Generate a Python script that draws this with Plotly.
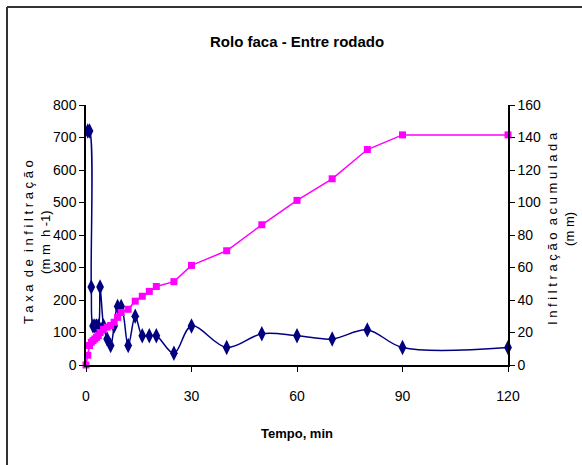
import plotly.graph_objects as go

# Infiltration rate (mm/h) versus time (min)
tempo_taxa = [0.5, 1, 1.5, 2, 2.5, 3, 3.5, 4, 5, 6, 7, 8, 9, 10, 12, 14, 16, 18, 20,
              25, 30, 40, 50, 60, 70, 80, 90, 120]
taxa = [720, 720, 240, 120, 120, 120, 120, 240, 120, 80, 60, 120, 180, 180, 60, 150,
        90, 90, 90, 36, 120, 54, 96, 90, 80, 108, 54, 54]

# Cumulative infiltration (mm) versus time (min)
tempo_acum = [0, 0.5, 1, 1.5, 2, 2.5, 3, 3.5, 4, 5, 6, 7, 8, 9, 10, 12, 14, 16, 18, 20,
              25, 30, 40, 50, 60, 70, 80, 90, 120]
acumulada = [0, 6, 12, 14, 15, 16, 17, 18, 20, 22, 23.3, 24.3, 26.3, 29.3, 32.3, 34.3,
             39.3, 42.3, 45.3, 48.3, 51.3, 61.3, 70.3, 86.3, 101.3, 114.6, 132.6,
             141.6, 141.6]

x_ticks = [0, 30, 60, 90, 120]

W, H = 582, 465
L, R, T, B = 86, 74, 105, 100
PW, PH = W - L - R, H - T - B

FONT = "Liberation Sans Narrow, Arial Narrow, Liberation Sans, Arial, sans-serif"


def px_x(p):
    return (p - L) / PW


def px_y(p):
    return (H - B - p) / PH


fig = go.Figure()

fig.add_trace(go.Scatter(
    x=tempo_taxa, y=taxa, mode="lines+markers",
    line=dict(color="#000080", width=1.5, shape="spline", smoothing=1),
    marker=dict(symbol="diamond-tall", size=11, color="#000080"),
    cliponaxis=False, showlegend=False,
))

fig.add_trace(go.Scatter(
    x=tempo_acum, y=acumulada, mode="lines+markers", yaxis="y2",
    line=dict(color="#FF00FF", width=1.5),
    marker=dict(symbol="square", size=7, color="#FF00FF"),
    cliponaxis=False, showlegend=False,
))

axis_font = dict(family=FONT, size=14, color="#000000")

fig.update_layout(
    width=W, height=H,
    margin=dict(l=L, r=R, t=T, b=B),
    paper_bgcolor="white", plot_bgcolor="white",
    font=dict(family=FONT, color="#000000"),
    xaxis=dict(
        range=[0, 120], tickvals=x_ticks, ticktext=[str(v) for v in x_ticks],
        showgrid=False, zeroline=False, showline=True, linecolor="#000000",
        linewidth=1.5, ticks="outside", ticklen=5, tickcolor="#000000",
        tickfont=axis_font, ticklabelstandoff=12,
    ),
    yaxis=dict(
        range=[0, 800], dtick=100, showgrid=False, zeroline=False,
        showline=True, linecolor="#000000", linewidth=1.5, ticks="outside",
        ticklen=5, tickcolor="#000000", tickfont=axis_font,
    ),
    yaxis2=dict(
        range=[0, 160], dtick=20, overlaying="y", side="right",
        showgrid=False, zeroline=False, showline=True, linecolor="#000000",
        linewidth=1.5, ticks="outside", ticklen=5, tickcolor="#000000",
        tickfont=axis_font,
    ),
    annotations=[
        dict(text="<b>Rolo faca - Entre rodado</b>", xref="paper", yref="paper",
             x=px_x(297), y=px_y(41), xanchor="center", yanchor="middle",
             showarrow=False, font=dict(family=FONT, size=15)),
        dict(text="<b>Tempo, min</b>", xref="paper", yref="paper",
             x=px_x(297), y=px_y(433), xanchor="center", yanchor="middle",
             showarrow=False, font=dict(family=FONT, size=13)),
        dict(text="T a x a  d e  i n f i l t r a ç ã o<br>(m m  h -1)",
             xref="paper", yref="paper", x=px_x(37), y=px_y(242),
             xanchor="center", yanchor="middle", textangle=-90, showarrow=False,
             font=dict(family=FONT, size=13), align="center"),
        dict(text="I n f i l t r a ç ã o  a c u m u l a d a<br>(m m)",
             xref="paper", yref="paper", x=px_x(561), y=px_y(229),
             xanchor="center", yanchor="middle", textangle=-90, showarrow=False,
             font=dict(family=FONT, size=13), align="center"),
    ],
    shapes=[
        dict(type="line", xref="paper", yref="paper",
             x0=px_x(7), x1=px_x(W + 5), y0=px_y(7), y1=px_y(7),
             line=dict(color="#333333", width=2)),
        dict(type="line", xref="paper", yref="paper",
             x0=px_x(7), x1=px_x(7), y0=px_y(7), y1=px_y(H + 5),
             line=dict(color="#333333", width=2)),
    ],
)

fig.write_html("out.html")
